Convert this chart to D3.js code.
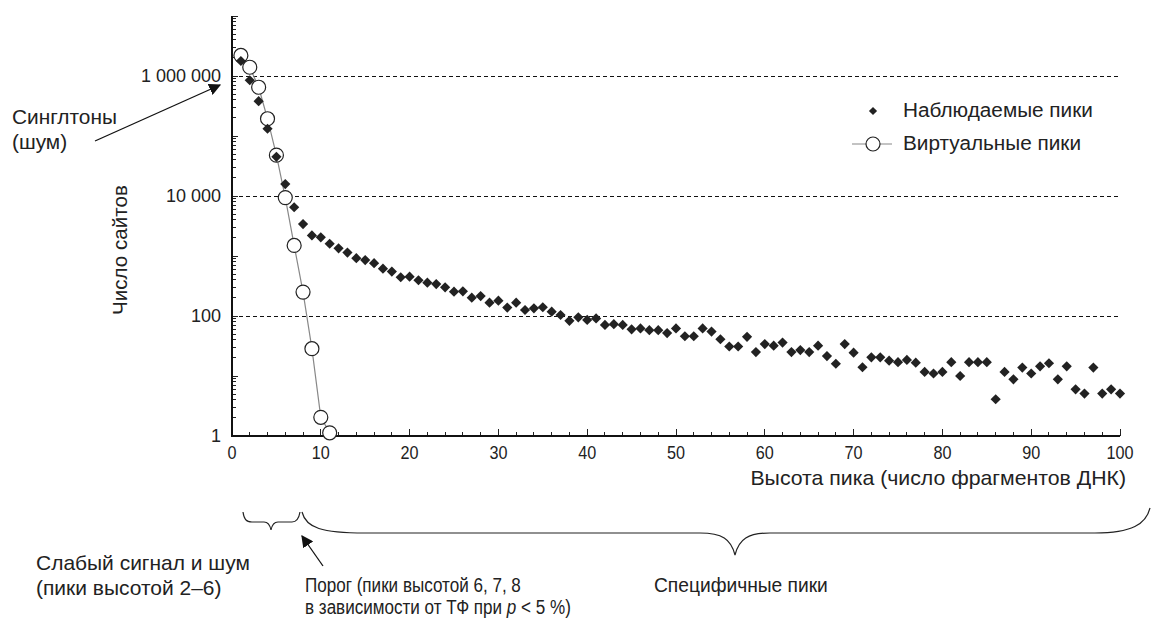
<!DOCTYPE html>
<html><head><meta charset="utf-8">
<script src="https://cdn.jsdelivr.net/npm/d3@7"></script>
<style>
body{margin:0;background:#fff;}
svg{display:block;}
text{font-family:"Liberation Sans",Arial,sans-serif;fill:#222;}
</style></head>
<body>
<svg id="chart" width="1153" height="619"></svg>
<script>
// Observed peaks: number of sites for peak heights 1..100
const observed = [1780000,850000,380000,132000,45000,15800,6500,3400,2200,2050,
1600,1340,1140,920,855,760,615,550,442,452,
394,359,341,301,254,258,202,215,167,180,
138,167,126,134,140,118,104,83,95,86,
91,71,73,71,60,62,58,58,52,62,
46,46,62,55,41,31,31,45,25,34,
32,36,25,27,25,32,21.5,16,34,24.5,
14,20.5,20.5,18,17,18.5,16.7,11.7,11,11.7,
17,10,17,17,17,4.1,11.7,8.8,13.8,11,
14.5,16.3,8.8,14.5,6,5.1,13.8,5.1,6,5.1];
// Virtual peaks: number of sites for peak heights 1..11
const virtualPeaks = [2200000,1400000,650000,194000,48000,9400,1500,250,28.5,2.05,1.13];
const yTickValues = [1,100,10000,1000000];
const yTickLabels = ["1","100","10 000","1 000 000"];
const xTickValues = [0,10,20,30,40,50,60,70,80,90,100];
const legendLabels = ["Наблюдаемые пики","Виртуальные пики"];

const svg = d3.select("#chart");
const x = d3.scaleLinear().domain([0,100]).range([232,1120]);
const y = d3.scaleLog().domain([1,1e7]).range([436,16]);

function fit(sel, w){
  const l = sel.node().getComputedTextLength();
  const fs = +sel.attr("font-size");
  const nf = fs*w/l;
  sel.attr("font-size", nf);
  return nf;
}
// horizontally condensed text: keeps font height, squeezes to target width
function narrowText(px, py, fs, w, anchor){
  const t = svg.append("text").attr("font-size",fs).attr("text-anchor",anchor||"start");
  return {t, apply(sx){ t.attr("transform",`translate(${px},${py}) scale(${sx},1)`); },
          scaleFor(){ return w / t.node().getComputedTextLength(); }};
}

// grid
svg.append("g").attr("shape-rendering","crispEdges").selectAll("line").data(yTickValues.slice(1)).join("line")
  .attr("x1",x(0)).attr("x2",x(100)).attr("y1",d=>y(d)).attr("y2",d=>y(d))
  .attr("stroke","#111").attr("stroke-width",1).attr("stroke-dasharray","4,3");

// y minor ticks
const yMinor=[];
for(let e=0;e<7;e++){for(let k=1;k<10;k++){yMinor.push(k*Math.pow(10,e));}}
yMinor.push(1e7);
svg.append("g").attr("shape-rendering","crispEdges").selectAll("line").data(yMinor).join("line")
  .attr("x1",x(0)).attr("x2",d=>x(0)+ (Math.abs(Math.log10(d)%1)<1e-9?6:4))
  .attr("y1",d=>y(d)).attr("y2",d=>y(d)).attr("stroke","#222").attr("stroke-width",1);
// x ticks
svg.append("g").attr("shape-rendering","crispEdges").selectAll("line").data(d3.range(0,101,2)).join("line")
  .attr("x1",d=>x(d)).attr("x2",d=>x(d)).attr("y1",y(1)).attr("y2",d=>y(1)-(d%10===0?7:4))
  .attr("stroke","#222").attr("stroke-width",1);
// axis lines
svg.append("line").attr("x1",x(0)).attr("x2",x(0)).attr("y1",y(1e7)).attr("y2",y(1)+1)
  .attr("stroke","#111").attr("stroke-width",2);
svg.append("line").attr("x1",x(0)-1).attr("x2",x(100)).attr("y1",y(1)).attr("y2",y(1))
  .attr("stroke","#111").attr("stroke-width",2);

// tick labels
svg.append("g").selectAll("text").data(yTickValues).join("text")
  .attr("x",221).attr("y",d=>y(d)+6).attr("text-anchor","end").attr("font-size",18)
  .text((d,i)=>yTickLabels[i]);
svg.append("g").selectAll("text").data(xTickValues).join("text")
  .attr("transform",d=>`translate(${x(d)},459) scale(0.9,1)`).attr("text-anchor","middle").attr("font-size",18)
  .text(d=>d);

// virtual line + circles
const line = d3.line().x((d,i)=>x(i+1)).y(d=>y(d));
svg.append("path").datum(virtualPeaks).attr("d",line).attr("fill","none").attr("stroke","#888").attr("stroke-width",1.2);
svg.append("g").selectAll("circle").data(virtualPeaks).join("circle")
  .attr("cx",(d,i)=>x(i+1)).attr("cy",d=>y(d)).attr("r",7)
  .attr("fill","#fff").attr("stroke","#222").attr("stroke-width",1.2);

// observed diamonds
const dia = d3.symbol().type(d3.symbolSquare).size(52);
svg.append("g").selectAll("path").data(observed).join("path")
  .attr("d",dia).attr("fill","#222")
  .attr("transform",(d,i)=>`translate(${x(i+1)},${y(d)}) rotate(45)`);

// legend
const lg = svg.append("g");
lg.append("path").attr("d",d3.symbol().type(d3.symbolSquare).size(34)).attr("fill","#222")
  .attr("transform","translate(873,111) rotate(45)");
lg.append("line").attr("x1",852).attr("x2",892).attr("y1",144).attr("y2",144).attr("stroke","#888").attr("stroke-width",1.2);
lg.append("circle").attr("cx",873).attr("cy",144).attr("r",7).attr("fill","#fff").attr("stroke","#222").attr("stroke-width",1.2);
const lt = lg.selectAll("text").data(legendLabels).join("text")
  .attr("x",903).attr("y",(d,i)=>117+i*33).attr("font-size",18).text(d=>d);
const lfs = fit(d3.select(lt.nodes()[0]), 190);
lt.attr("font-size", lfs);

// axis titles
const yl = svg.append("text").attr("font-size",18)
  .attr("transform","translate(127,250) rotate(-90)").attr("text-anchor","middle").text("Число сайтов");
fit(yl, 130);
const xl = narrowText(1126, 485, 20, 376, "end");
xl.t.text("Высота пика (число фрагментов ДНК)");
xl.apply(xl.scaleFor());

// defs arrow
svg.append("defs").append("marker").attr("id","arr").attr("viewBox","0 0 10 10")
  .attr("refX",9).attr("refY",5).attr("markerWidth",12).attr("markerHeight",12)
  .attr("markerUnits","userSpaceOnUse").attr("orient","auto")
  .append("path").attr("d","M0,0 L10,5 L0,10 z").attr("fill","#111");

// singletons annotation
const s1 = svg.append("text").attr("font-size",18).attr("x",12).attr("y",124).text("Синглтоны");
const sfs = fit(s1, 105);
svg.append("text").attr("font-size",sfs).attr("x",12).attr("y",149).text("(шум)");
svg.append("line").attr("x1",95).attr("y1",141).attr("x2",220).attr("y2",85)
  .attr("stroke","#111").attr("stroke-width",1.3).attr("marker-end","url(#arr)");

// braces
svg.append("path").attr("fill","none").attr("stroke","#222").attr("stroke-width",1.2)
  .attr("d","M243,512 C244,519 246,522 252,522 L264,522 C268,522 270,525 271,530 C272,525 274,522 278,522 L292,522 C297,522 299,518 300,512");
svg.append("path").attr("fill","none").attr("stroke","#222").attr("stroke-width",1.2)
  .attr("d","M302,512 C306,528 322,533 365,533 L700,533 C722,533 731,539 735,555 C739,539 748,533 770,533 L1095,533 C1132,533 1146,524 1150,508");
// threshold arrow
svg.append("line").attr("x1",323).attr("y1",566).attr("x2",302).attr("y2",536)
  .attr("stroke","#111").attr("stroke-width",1.3).attr("marker-end","url(#arr)");

// bottom texts
const b1 = svg.append("text").attr("font-size",18).attr("x",36).attr("y",570).text("Слабый сигнал и шум");
const bfs = fit(b1, 214);
svg.append("text").attr("font-size",bfs).attr("x",36).attr("y",595).text("(пики высотой 2–6)");

const nfs = 21;
const sp = narrowText(654, 592, nfs, 174);
sp.t.text("Специфичные пики");
sp.apply(sp.scaleFor());
const p1 = narrowText(305, 592, nfs, 216);
p1.t.text("Порог (пики высотой 6, 7, 8");
const psx = p1.scaleFor();
p1.apply(psx);
const p2 = narrowText(305, 614, nfs, 0);
p2.t.append("tspan").text("в зависимости от ТФ при ");
p2.t.append("tspan").attr("font-style","italic").text("p");
p2.t.append("tspan").text(" < 5 %)");
p2.apply(psx);
</script>
</body></html>
